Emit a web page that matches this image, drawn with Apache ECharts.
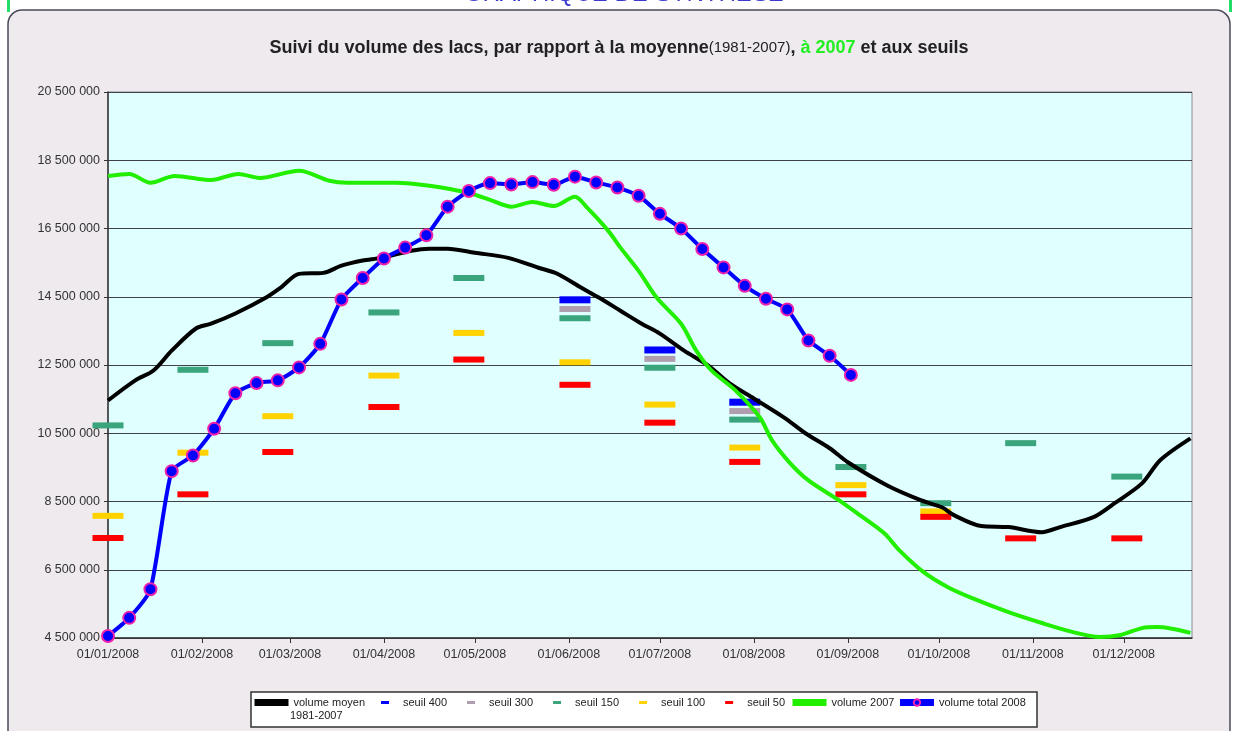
<!DOCTYPE html>
<html><head><meta charset="utf-8">
<script src="https://cdn.jsdelivr.net/npm/echarts@6/dist/echarts.min.js"></script>
<style>html,body{margin:0;padding:0;background:#fff}#c{width:1238px;height:731px}</style>
</head><body><div id="c"></div>
<script>
// ---- y axis scale (volumes, m3) ----
const yMin = 4500000, yMax = 20500000, yStep = 2000000;

// ---- volume total 2008 (weekly) ----
const weeks2008 = ['2008-01-01','2008-01-08','2008-01-15','2008-01-22','2008-01-29','2008-02-05','2008-02-12','2008-02-19','2008-02-26',
  '2008-03-04','2008-03-11','2008-03-18','2008-03-25','2008-04-01','2008-04-08','2008-04-15','2008-04-22','2008-04-29',
  '2008-05-06','2008-05-13','2008-05-20','2008-05-27','2008-06-03','2008-06-10','2008-06-17','2008-06-24',
  '2008-07-01','2008-07-08','2008-07-15','2008-07-22','2008-07-29','2008-08-05','2008-08-12','2008-08-19','2008-08-26','2008-09-02'];
const volumeTotal2008 = [4560000,5090000,5930000,9390000,9850000,10630000,11670000,11970000,12050000,
  12430000,13120000,14420000,15050000,15620000,15940000,16300000,17140000,17600000,
  17830000,17790000,17860000,17780000,18020000,17850000,17700000,17460000,
  16930000,16500000,15900000,15360000,14820000,14440000,14130000,13220000,12770000,12210000];

// ---- volume moyen 1981-2007 ----
const moyenDates = ['2008-01-01','2008-01-10','2008-01-16','2008-01-22','2008-01-30','2008-02-04','2008-02-12','2008-02-22','2008-02-27',
  '2008-03-04','2008-03-12','2008-03-18','2008-03-25','2008-03-31','2008-04-10','2008-04-16','2008-04-22','2008-05-01','2008-05-12',
  '2008-05-22','2008-05-28','2008-06-05','2008-06-11','2008-06-18','2008-06-25','2008-07-01','2008-07-09','2008-07-17','2008-07-24',
  '2008-08-01','2008-08-11','2008-08-18','2008-08-26','2008-09-01','2008-09-14','2008-09-25','2008-10-02','2008-10-06','2008-10-15',
  '2008-10-24','2008-11-04','2008-11-10','2008-11-21','2008-11-28','2008-12-07','2008-12-13','2008-12-23'];
const moyenValues = [11460000,12050000,12340000,12920000,13570000,13710000,14010000,14470000,14770000,
  15170000,15200000,15410000,15560000,15640000,15850000,15910000,15910000,15790000,15640000,
  15350000,15180000,14770000,14470000,14090000,13710000,13420000,12920000,12480000,11960000,
  11520000,10960000,10500000,10060000,9650000,8970000,8540000,8330000,8100000,7780000,
  7750000,7600000,7750000,8040000,8450000,9030000,9710000,10350000];

// ---- volume 2007 ----
const vol2007Dates = ['2008-01-01','2008-01-08','2008-01-15','2008-01-23','2008-02-04','2008-02-13','2008-02-20','2008-03-04','2008-03-14',
  '2008-03-20','2008-04-05','2008-04-16','2008-04-29','2008-05-06','2008-05-13','2008-05-20','2008-05-27','2008-06-03','2008-06-07',
  '2008-06-14','2008-06-18','2008-06-24','2008-06-30','2008-07-08','2008-07-13','2008-07-18','2008-07-26','2008-08-03','2008-08-07',
  '2008-08-13','2008-08-19','2008-08-29','2008-09-04','2008-09-13','2008-09-18','2008-09-26','2008-10-04','2008-10-12','2008-10-24',
  '2008-11-04','2008-11-14','2008-11-23','2008-11-30','2008-12-07','2008-12-12','2008-12-23'];
const vol2007Values = [18040000,18100000,17840000,18040000,17920000,18100000,17980000,18190000,17900000,
  17840000,17840000,17750000,17540000,17340000,17140000,17280000,17160000,17430000,17110000,
  16430000,15940000,15260000,14470000,13710000,12920000,12340000,11750000,10960000,10290000,
  9620000,9120000,8540000,8160000,7570000,7070000,6430000,5990000,5670000,5260000,
  4940000,4680000,4530000,4590000,4790000,4820000,4650000];

// ---- seuils ----
const seuilDates = ['2008-01-01','2008-01-29','2008-02-26','2008-04-01','2008-04-29','2008-06-03','2008-07-01','2008-07-29','2008-09-02','2008-09-30','2008-10-28','2008-12-02'];
const seuil400 = [null,null,null,null,null,14410000,12940000,11410000,null,null,null,null];
const seuil300 = [null,null,null,null,null,14140000,12680000,11150000,null,null,null,null];
const seuil150 = [10730000,12360000,13140000,14040000,15050000,13870000,12420000,10900000,9510000,8450000,10210000,9230000];
const seuil100 = [8080000,9930000,11000000,12190000,13440000,12580000,11340000,10080000,8980000,8210000,null,null];
const seuil50  = [7430000,8710000,9950000,11270000,12660000,11920000,10810000,9660000,8710000,8050000,7420000,7420000];

const pairs = (d, v) => d.map((x, i) => [x, v[i]]);
const seuilPts = v => seuilDates.map((x, i) => v[i] == null ? null : [x, v[i]]).filter(p => p);

const FONT = 'Liberation Sans, Arial, sans-serif';
const fmtNum = v => Math.round(v).toString().replace(/\B(?=(\d{3})+(?!\d))/g, ' ');
const pad = n => (n < 10 ? '0' : '') + n;
const fmtDate = v => { const d = new Date(v); return pad(d.getDate()) + '/' + pad(d.getMonth() + 1) + '/' + d.getFullYear(); };

const seuilSeries = (name, color, data, h) => ({
  name, type: 'scatter', symbol: 'rect', symbolSize: [31, h], clip: false, z: 1,
  itemStyle: { color, opacity: 1 }, emphasis: { disabled: true }, data: seuilPts(data)
});
const seuilIcon = 'path://M0,0h8v3h-8z';

const chart = echarts.init(document.getElementById('c'), null, { renderer: 'canvas' });
chart.setOption({
  animation: false,
  backgroundColor: '#ffffff',
  textStyle: { fontFamily: FONT },
  title: {
    left: 'center', top: 34,
    text: '{a|Suivi du volume des lacs, par rapport à la moyenne}{b|(1981-2007)}{a|, }{g|à 2007}{a| et aux seuils}',
    textStyle: { rich: {
      a: { fontFamily: FONT, fontSize: 18, fontWeight: 'bold', color: '#222' },
      b: { fontFamily: FONT, fontSize: 15, fontWeight: 'normal', color: '#222' },
      g: { fontFamily: FONT, fontSize: 18, fontWeight: 'bold', color: '#22ee22' }
    } }
  },
  graphic: [
    { type: 'rect', z: -10, shape: { x: 8, y: 10, width: 1222, height: 740, r: 14 }, style: { fill: '#eeeaee', stroke: '#4a4a5a', lineWidth: 1.5 } },
    { type: 'rect', z: -9, shape: { x: 7, y: 0, width: 3, height: 12 }, style: { fill: '#22dd66' } },
    { type: 'rect', z: -9, shape: { x: 1229, y: 0, width: 3, height: 12 }, style: { fill: '#22dd66' } },
    { type: 'text', z: -9, style: { text: 'GRAPHIQUE DE SYNTHESE', x: 625, y: 6, align: 'center', verticalAlign: 'bottom', font: 'italic 24px ' + FONT, fill: '#3a3ad0' } },
    { type: 'rect', z: -5, shape: { x: 251, y: 692, width: 786, height: 35 }, style: { fill: '#ffffff', stroke: '#333', lineWidth: 1.5 } },
    { type: 'text', z: 10, style: { text: '1981-2007', x: 290, y: 716, verticalAlign: 'middle', font: '11px ' + FONT, fill: '#222' } }
  ],
  legend: [
    { left: 251, top: 697, itemWidth: 34, itemHeight: 8, padding: 0, itemGap: 0,
      data: ['volume moyen 1981-2007'], formatter: () => 'volume moyen',
      lineStyle: { width: 7 }, textStyle: { fontSize: 11, color: '#222', fontFamily: FONT } },
    { left: 381, top: 697, itemWidth: 26, itemHeight: 3, padding: 0, itemGap: 20,
      data: [ { name: 'seuil 400', icon: seuilIcon }, { name: 'seuil 300', icon: seuilIcon }, { name: 'seuil 150', icon: seuilIcon },
              { name: 'seuil 100', icon: seuilIcon }, { name: 'seuil 50', icon: seuilIcon } ],
      textStyle: { fontSize: 11, color: '#222', fontFamily: FONT } },
    { left: 789, top: 697, itemWidth: 34, itemHeight: 8, padding: 0, itemGap: 2,
      data: ['volume 2007', 'volume total 2008'], lineStyle: { width: 7 },
      textStyle: { fontSize: 11, color: '#222', fontFamily: FONT } }
  ],
  grid: { left: 108, right: 46, top: 92, bottom: 93, containLabel: false, outerBoundsMode: 'none',
    show: true, backgroundColor: '#e0ffff', borderColor: '#8a8a96', borderWidth: 1 },
  xAxis: {
    type: 'time', min: '2008-01-01', max: '2008-12-23T12:00:00', splitNumber: 12,
    axisLine: { show: true, lineStyle: { color: '#333', width: 1.5 } },
    axisTick: { show: true, length: 5, lineStyle: { color: '#333' } },
    splitLine: { show: false },
    axisLabel: { formatter: fmtDate, fontSize: 12.5, color: '#333', margin: 10, fontFamily: FONT }
  },
  yAxis: {
    type: 'value', min: yMin, max: yMax, interval: yStep,
    axisLine: { show: true, lineStyle: { color: '#333', width: 1.5 } },
    axisTick: { show: true, length: 4, lineStyle: { color: '#333' } },
    splitLine: { show: true, lineStyle: { color: '#404048', width: 1.2 } },
    axisLabel: { formatter: fmtNum, fontSize: 12.5, color: '#333', margin: 8, fontFamily: FONT }
  },
  series: [
    { name: 'volume moyen 1981-2007', type: 'line', smooth: 0.3, showSymbol: false, symbol: 'none', z: 3,
      lineStyle: { color: '#000', width: 4 }, itemStyle: { color: '#000' }, data: pairs(moyenDates, moyenValues) },
    seuilSeries('seuil 400', '#0000ff', seuil400, 7),
    seuilSeries('seuil 300', '#ae9eae', seuil300, 6),
    seuilSeries('seuil 150', '#3aa47c', seuil150, 6),
    seuilSeries('seuil 100', '#ffd200', seuil100, 6),
    seuilSeries('seuil 50', '#ff0000', seuil50, 6),
    { name: 'volume 2007', type: 'line', smooth: 0.3, showSymbol: false, symbol: 'none', z: 4,
      lineStyle: { color: '#22ee00', width: 4 }, itemStyle: { color: '#22ee00' }, data: pairs(vol2007Dates, vol2007Values) },
    { name: 'volume total 2008', type: 'line', smooth: 0.2, symbol: 'circle', symbolSize: 12, showSymbol: true, z: 5,
      lineStyle: { color: '#0000ff', width: 4 }, itemStyle: { color: '#0000ff', borderColor: '#ee22aa', borderWidth: 2 },
      data: pairs(weeks2008, volumeTotal2008) }
  ]
});
</script></body></html>
